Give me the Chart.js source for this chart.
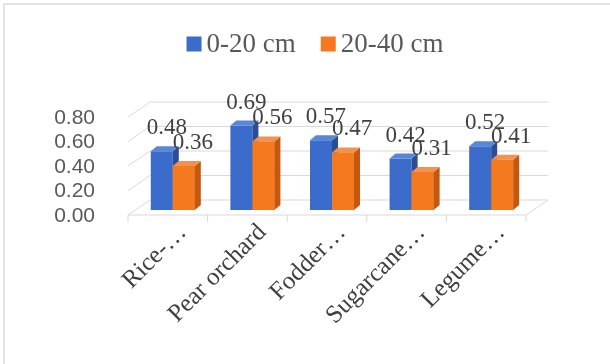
<!DOCTYPE html>
<html>
<head>
<meta charset="utf-8">
<script src="https://cdn.jsdelivr.net/npm/chart.js@4.4.1/dist/chart.umd.min.js"></script>
<style>
  html, body { margin: 0; padding: 0; background: #fff; }
  #wrap { width: 610px; height: 364px; }
</style>
</head>
<body>
<div id="wrap"><canvas id="soilChart" width="610" height="364"></canvas></div>
<script>
// data
const categories = ['Rice-…', 'Pear orchard', 'Fodder…', 'Sugarcane…', 'Legume…'];
const seriesNames = ['0-20 cm', '20-40 cm'];
const depth0to20 = [0.48, 0.69, 0.57, 0.42, 0.52];
const depth20to40 = [0.36, 0.56, 0.47, 0.31, 0.41];
const yTickValues = [0, 0.2, 0.4, 0.6, 0.8];

// look of the fake 3d box
const frontColors = ['#3b6bcb', '#f5791f'];
const sideColors = ['#2a4d94', '#c4580f'];
const topColors = ['#5a86d8', '#f39250'];
const back = { dx: 17, dy: -10 };
const front = { dx: -5, dy: 5 };
const barDepth = { dx: 6, dy: -5 };

function line(ctx, x1, y1, x2, y2) {
    ctx.beginPath();
    ctx.moveTo(x1, y1);
    ctx.lineTo(x2, y2);
    ctx.stroke();
}

function poly(ctx, pts, color) {
    ctx.beginPath();
    ctx.moveTo(pts[0][0], pts[0][1]);
    for (let i = 1; i < pts.length; i++) ctx.lineTo(pts[i][0], pts[i][1]);
    ctx.closePath();
    ctx.fillStyle = color;
    ctx.fill();
}

const boxPlugin = {
    id: 'box3d',
    beforeDatasetsDraw(chart) {
        const { ctx, chartArea: a, scales: { x, y } } = chart;
        ctx.save();
        // outer frame (only top and left show in the picture)
        ctx.strokeStyle = '#d9d9d9';
        ctx.lineWidth = 1.5;
        line(ctx, 4, 364, 4, 4);
        line(ctx, 4, 4, 610, 4);

        ctx.lineWidth = 1;
        yTickValues.forEach(v => {
            const py = y.getPixelForValue(v);
            line(ctx, a.left + front.dx, py + front.dy, a.left + back.dx, py + back.dy);
            line(ctx, a.left + back.dx, py + back.dy, a.right + back.dx, py + back.dy);
        });
        const p0 = y.getPixelForValue(0);
        line(ctx, a.left + front.dx, p0 + front.dy, a.right + front.dx, p0 + front.dy);
        line(ctx, a.right + front.dx, p0 + front.dy, a.right + back.dx, p0 + back.dy);
        const step = (a.right - a.left) / categories.length;
        for (let i = 0; i <= categories.length; i++) {
            const xx = x.getPixelForValue(0) - step / 2 + i * step + front.dx;
            line(ctx, xx, p0 + front.dy, xx, p0 + front.dy + 7);
        }
        ctx.restore();
    },
    afterDatasetsDraw(chart) {
        const ctx = chart.ctx;
        ctx.save();
        // depth faces, left series first so the right one covers its side
        chart.data.datasets.forEach((ds, i) => {
            chart.getDatasetMeta(i).data.forEach(bar => {
                const { x, y, base, width } = bar.getProps(['x', 'y', 'base', 'width'], true);
                const l = x - width / 2, r = x + width / 2;
                if (i > 0) {
                    ctx.fillStyle = frontColors[i];
                    ctx.fillRect(l, y, width, base - y);
                }
                poly(ctx, [[r, y], [r + barDepth.dx, y + barDepth.dy], [r + barDepth.dx, base + barDepth.dy], [r, base]], sideColors[i]);
                poly(ctx, [[l, y], [l + barDepth.dx, y + barDepth.dy], [r + barDepth.dx, y + barDepth.dy], [r, y]], topColors[i]);
            });
        });

        // value labels
        ctx.font = '23px "Liberation Serif"';
        ctx.fillStyle = '#404040';
        ctx.textAlign = 'center';
        ctx.textBaseline = 'middle';
        chart.data.datasets.forEach((ds, i) => {
            chart.getDatasetMeta(i).data.forEach((bar, j) => {
                ctx.fillText(ds.data[j].toFixed(2), bar.x + (i === 0 ? 5 : 9), bar.y - 23);
            });
        });
        ctx.restore();
    },
    afterDraw(chart) {
        // legend, drawn by hand so it can sit where the original has it
        const ctx = chart.ctx;
        ctx.save();
        ctx.font = '27px "Liberation Serif"';
        ctx.textBaseline = 'middle';
        const box = 15, gap = 5, itemGap = 25;
        const widths = chart.data.datasets.map(ds => box + gap + ctx.measureText(ds.label).width);
        const total = widths.reduce((s, w) => s + w, 0) + itemGap * (widths.length - 1);
        let xx = 315 - total / 2;
        const cy = 44;
        chart.data.datasets.forEach((ds, i) => {
            ctx.fillStyle = frontColors[i];
            ctx.fillRect(xx, cy - box / 2, box, box);
            ctx.fillStyle = '#595959';
            ctx.fillText(ds.label, xx + box + gap, cy + 1);
            xx += widths[i] + itemGap;
        });
        ctx.restore();
    }
};

const ctx = document.getElementById('soilChart').getContext('2d');
new Chart(ctx, {
    type: 'bar',
    data: {
        labels: categories,
        datasets: [
            { label: seriesNames[0], data: depth0to20, backgroundColor: frontColors[0] },
            { label: seriesNames[1], data: depth20to40, backgroundColor: frontColors[1] }
        ]
    },
    options: {
        responsive: false,
        devicePixelRatio: 1,
        animation: false,
        layout: { padding: { top: 112, right: 79, left: 0, bottom: 0 } },
        datasets: { bar: { barPercentage: 1, categoryPercentage: 0.553 } },
        plugins: { legend: { display: false }, tooltip: { enabled: false } },
        scales: {
            x: {
                grid: { display: false },
                border: { display: false },
                ticks: {
                    minRotation: 45, maxRotation: 45, padding: 0, labelOffset: 10, autoSkip: false,
                    color: '#404040',
                    font: { family: 'Liberation Serif', size: 25 }
                },
                afterFit(scale) { scale.height = 154; }
            },
            y: {
                min: 0, max: 0.8,
                grid: { display: false },
                border: { display: false },
                afterBuildTicks(scale) { scale.ticks = yTickValues.map(v => ({ value: v })); },
                ticks: {
                    padding: 30, labelOffset: 6, autoSkip: false,
                    color: '#595959',
                    font: { family: 'Liberation Sans', size: 21 },
                    callback: v => v.toFixed(2)
                },
                afterFit(scale) { scale.width = 133; }
            }
        }
    },
    plugins: [boxPlugin]
});
</script>
</body>
</html>
